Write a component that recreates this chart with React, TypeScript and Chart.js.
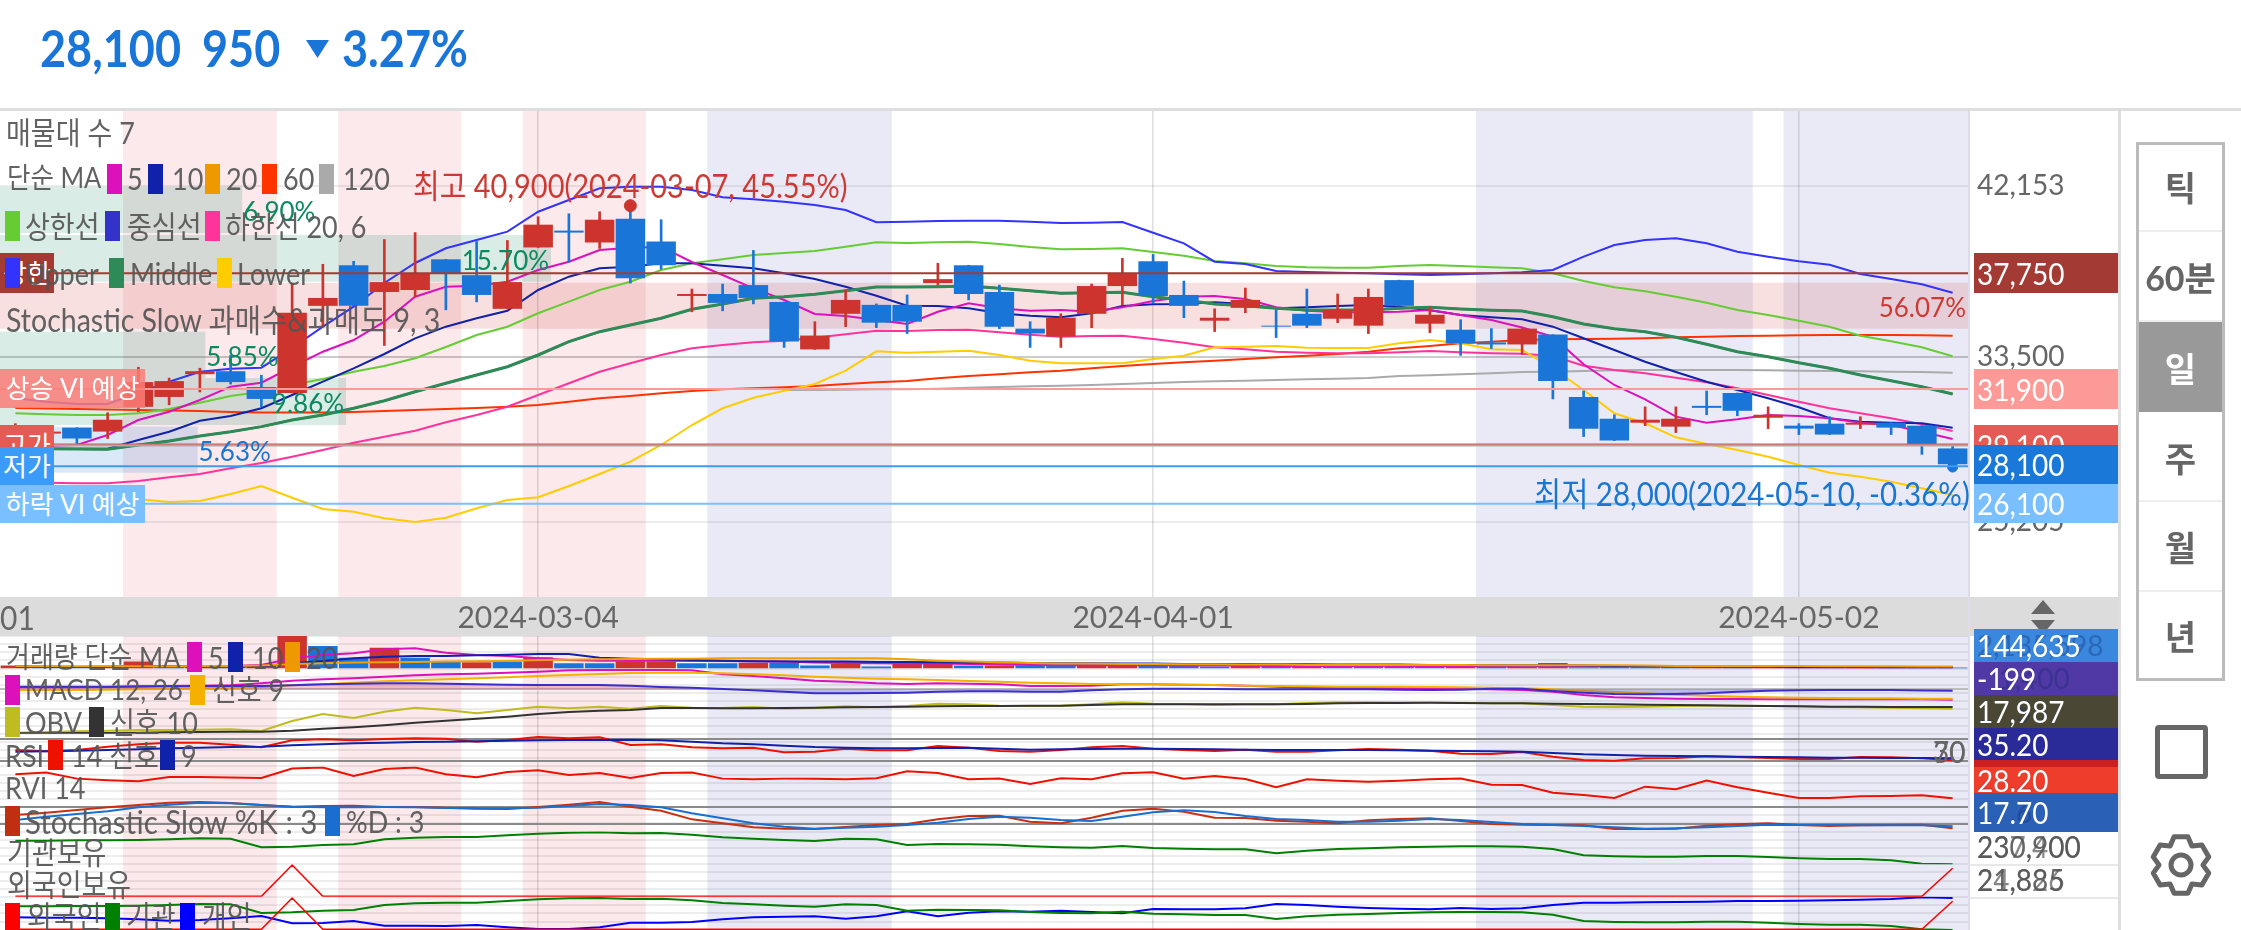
import { useEffect, useRef } from 'react';
import { Chart, registerables } from 'chart.js';

Chart.register(...registerables);

const FONT = 'Lato, "Noto Sans CJK KR", sans-serif';
const RED = '#cc342d';
const BLUE = '#1976d8';

// trading days shown on the chart
const dates = [
  '2024-02-05', '2024-02-06', '2024-02-07', '2024-02-08', '2024-02-13', '2024-02-14', '2024-02-15', '2024-02-16',
  '2024-02-19', '2024-02-20', '2024-02-21', '2024-02-22', '2024-02-23', '2024-02-26', '2024-02-27', '2024-02-28',
  '2024-02-29', '2024-03-04', '2024-03-05', '2024-03-06', '2024-03-07', '2024-03-08', '2024-03-11', '2024-03-12',
  '2024-03-13', '2024-03-14', '2024-03-15', '2024-03-18', '2024-03-19', '2024-03-20', '2024-03-21', '2024-03-22',
  '2024-03-25', '2024-03-26', '2024-03-27', '2024-03-28', '2024-03-29', '2024-04-01', '2024-04-02', '2024-04-03',
  '2024-04-04', '2024-04-05', '2024-04-08', '2024-04-09', '2024-04-11', '2024-04-12', '2024-04-15', '2024-04-16',
  '2024-04-17', '2024-04-18', '2024-04-19', '2024-04-22', '2024-04-23', '2024-04-24', '2024-04-25', '2024-04-26',
  '2024-04-29', '2024-04-30', '2024-05-02', '2024-05-03', '2024-05-07', '2024-05-08', '2024-05-09', '2024-05-10',
];
const dateTicks = ['2024-03-04', '2024-04-01', '2024-05-02'];

const opens = [
  29650, 29650, 29950, 29750, 31000, 31500, 32650, 32800, 32000, 31700,
  36100, 38150, 36800, 36900, 38450, 37650, 35950, 39050, 39900, 39300,
  40500, 39350, 36600, 36700, 37150, 36300, 33900, 35700, 36150, 36150,
  37250, 38150, 36800, 34950, 34550, 35700, 37100, 38350, 36650, 35350,
  36000, 35100, 35700, 35450, 35100, 37400, 35200, 34900, 34250, 34150,
  34650, 31500, 30400, 30200, 30000, 31050, 31700, 30450, 30050, 30150,
  30100, 30200, 30050, 28900,
];
const highs = [
  30150, 29900, 29950, 30700, 33000, 32450, 32950, 33600, 32600, 37250,
  38200, 38350, 39450, 39800, 38450, 39350, 39400, 40600, 40750, 40850,
  40900, 40450, 36950, 37200, 38900, 36300, 35300, 36900, 36200, 36650,
  38250, 38150, 37150, 35300, 35700, 37200, 38500, 38700, 37350, 35950,
  37000, 35900, 36950, 36700, 36950, 37400, 36050, 35400, 34950, 34950,
  34650, 31800, 30600, 31000, 31000, 31800, 31700, 31000, 30150, 30500,
  30500, 30200, 30050, 29100,
];
const lows = [
  29150, 29400, 29100, 29400, 30750, 31100, 31750, 32150, 31000, 31700,
  35050, 36100, 34100, 36550, 35900, 36300, 35950, 39050, 38300, 39000,
  37250, 37950, 35800, 35850, 36200, 34000, 33900, 35050, 35000, 34700,
  37150, 36400, 34950, 34000, 34000, 35000, 36150, 36250, 35500, 34800,
  35750, 34500, 35000, 35250, 34700, 36100, 34750, 33600, 33950, 33650,
  31400, 29500, 29300, 30050, 29700, 30600, 30550, 29900, 29600, 29600,
  29900, 29600, 28600, 28000,
];
const closes = [
  29700, 29750, 29400, 30350, 32250, 32300, 32800, 32250, 31400, 35750,
  36500, 36100, 37300, 37750, 37750, 36650, 37300, 40200, 39800, 40450,
  37500, 38150, 36700, 36250, 36500, 34300, 34600, 36400, 35250, 35300,
  37450, 36700, 35050, 34700, 35500, 37100, 37750, 36600, 36100, 35500,
  36400, 35050, 35100, 35900, 36550, 36100, 35650, 34200, 34150, 34950,
  32300, 29900, 29300, 30350, 30400, 30950, 30800, 30600, 29900, 29600,
  30200, 29950, 29100, 28100,
];

const ma5 = [
  29023, 29023, 29073, 29579, 30336, 30755, 31346, 32018, 32220, 33012, 33785, 34376, 35300, 36563, 37068, 37118,
  37320, 37911, 38330, 38921, 39037, 39088, 38315, 37659, 36987, 36396, 35689, 35588, 35386, 35184, 35805, 36229,
  35977, 35855, 35891, 35805, 36027, 36346, 36563, 36598, 36446, 36027, 35855, 35775, 35775, 35805, 35891, 35638,
  35386, 35007, 34543, 33149, 32104, 31381, 30507, 30200, 30371, 30588, 30538, 30422, 30200, 30083, 29745, 29376,
];
const ma10 = [
  28871, 28871, 28887, 28887, 29326, 29745, 30301, 30538, 30927, 31598, 32270, 32947, 33669, 34462, 35048, 35472,
  35855, 36901, 37573, 37997, 38078, 38249, 38249, 38128, 37997, 37745, 37456, 37068, 36613, 36108, 36093, 35977,
  35725, 35604, 35522, 35725, 36093, 36179, 36194, 36280, 36194, 35977, 36027, 36093, 36143, 36058, 35876, 35638,
  35522, 35421, 35048, 34462, 33871, 33280, 32760, 32270, 31851, 31432, 30978, 30422, 30250, 30200, 30170, 29947,
];
const ma60 = [
  30942, 30917, 30892, 30866, 30841, 30816, 30790, 30740, 30715, 30715, 30715, 30740, 30790, 30841, 30892, 30942,
  31008, 31094, 31260, 31432, 31548, 31685, 31800, 31887, 31937, 31988, 32053, 32154, 32240, 32305, 32442, 32558,
  32644, 32745, 32826, 32947, 33063, 33164, 33250, 33331, 33417, 33502, 33583, 33669, 33785, 33957, 34073, 34209,
  34290, 34376, 34412, 34427, 34442, 34462, 34513, 34543, 34578, 34593, 34614, 34629, 34629, 34629, 34614, 34593,
];
const ma120 = [
  null, null, null, null, null, null, null, null, null, null, null, null, null, null, null, null, null, null, null,
  null, null, null, null, null, null, 31851, 31851, 31866, 31887, 31887, 31917, 31967, 32002, 32037, 32068, 32104,
  32154, 32205, 32255, 32290, 32321, 32356, 32391, 32422, 32457, 32558, 32594, 32644, 32694, 32760, 32775, 32810,
  32846, 32861, 32861, 32861, 32861, 32846, 32826, 32810, 32795, 32775, 32760, 32725,
];
// MA20, the envelope centre and the Bollinger middle are the same average
const middle = [
  28922, 28887, 28871, 28856, 29073, 29276, 29528, 29745, 30000, 30336, 30588, 30927, 31311, 31765, 32189, 32608,
  33027, 33619, 34290, 34795, 35134, 35472, 35927, 36194, 36482, 36563, 36684, 36866, 37052, 37052, 37068, 37103,
  36987, 36866, 36735, 36765, 36785, 36563, 36396, 36194, 36108, 35977, 35891, 35891, 35891, 35977, 36027, 35941,
  35876, 35841, 35553, 35184, 34947, 34795, 34513, 34159, 33785, 33533, 33230, 32947, 32608, 32321, 32018, 31649,
];
const envUpper = [
  30674, 30624, 30588, 30588, 30674, 30892, 31210, 31548, 31765, 32104, 32407, 32775, 33063, 33452, 34023, 34628,
  35048, 35725, 36311, 36901, 37320, 37911, 38249, 38451, 38668, 38770, 38870, 39088, 39310, 39274, 39310, 39340,
  39224, 39073, 38957, 38972, 39007, 38820, 38633, 38365, 38249, 38113, 38047, 38027, 38027, 38113, 38164, 38113,
  38047, 37997, 37745, 37356, 37037, 36835, 36563, 36260, 35891, 35638, 35350, 35048, 34593, 34310, 34007, 33553,
];
const envLower = [
  27220, 27170, 27139, 27139, 27256, 27442, 27609, 27897, 28163, 28483, 28821, 29190, 29493, 29796, 30219, 30588,
  31008, 31598, 32189, 32775, 33200, 33619, 33957, 34124, 34260, 34341, 34492, 34664, 34846, 34830, 34881, 34896,
  34765, 34644, 34543, 34578, 34593, 34426, 34240, 34007, 33906, 33785, 33735, 33705, 33705, 33755, 33820, 33755,
  33705, 33684, 33568, 33078, 32861, 32694, 32472, 32240, 31937, 31598, 31260, 30927, 30674, 30422, 30119, 29780,
];
const bbUpper = [
  31432, 31260, 31144, 31144, 31700, 32270, 32775, 32927, 32977, 33972, 35048, 36058, 37255, 38265, 39007, 39426,
  39845, 40855, 41446, 42037, 42118, 42118, 41951, 41582, 41481, 41360, 41193, 40941, 40320, 40350, 40386, 40401,
  40401, 40350, 40285, 40300, 40335, 39795, 39259, 38330, 38214, 37860, 37810, 37775, 37745, 37694, 37658, 37694,
  37745, 37795, 37911, 38583, 39174, 39426, 39512, 39259, 38835, 38583, 38350, 38178, 37709, 37457, 37189, 36765,
];
const bbLower = [
  26715, 26634, 26549, 26463, 26332, 26195, 26245, 26599, 27003, 26412, 25841, 25705, 25372, 25185, 25403, 25877,
  26296, 26432, 27003, 27609, 28231, 29073, 30083, 30927, 31462, 31816, 32154, 32826, 33805, 33735, 33785, 33836,
  33619, 33331, 33200, 33200, 33200, 33417, 33583, 34007, 34037, 34073, 33987, 33972, 33972, 34209, 34376, 34209,
  33906, 33871, 32947, 31851, 30674, 30170, 29462, 29124, 28821, 28483, 28063, 27674, 27472, 27220, 26887, 26549,
];

// price levels drawn across the chart: upper limit, rise VI, day high, previous close, day low, fall VI
const levelPrices = [37750, 31900, 29100, 29050, 28000, 26100];
const levelColors = ['#a33a33', '#fb9a96', '#ee4b44', '#aaaaaa', '#3a9cf8', '#7abfff'];
const yTicks = [25205, 33500, 42153];

// price-volume bands
const bandTops = [42118, 39679, 37270, 34795, 32457, 30000, 27674];
const bandBottoms = [39779, 37320, 34947, 32457, 30083, 27674, 25336];
const bandShares = [6.9, 15.7, 56.07, 5.85, 9.86, 5.63, 0];
const bandKinds = ['up', 'up', 'top', 'up', 'up', 'down', 'down'];

// stochastic over-bought / over-sold spans, in candle indexes
const hotSpans = [[3.5, 8.5], [10.5, 14.5], [16.5, 20.5]];
const coldSpans = [[22.5, 28.5], [47.5, 56.5], [57.5, 63.5]];

const volume = [
  430000, 190000, 145000, 290000, 1010000, 190000, 380000, 290000, 530000, 4700000, 3260000, 1580000, 3020000,
  1580000, 1010000, 910000, 1010000, 1630000, 770000, 770000, 1060000, 1010000, 770000, 770000, 860000, 860000,
  430000, 720000, 290000, 670000, 720000, 430000, 430000, 430000, 430000, 430000, 480000, 430000, 430000, 290000,
  530000, 380000, 480000, 380000, 380000, 380000, 290000, 240000, 290000, 290000, 820000, 190000, 290000, 290000,
  240000, 190000, 145000, 145000, 100000, 145000, 145000, 145000, 145000, 144635,
];
const volumeSide = 'rbbrrbrbrrbbrbbrbrbbrrbbrbbrbrrbrbbrrbbbrbrbbbbrbrrbbbbrbrbbrbbb';
const volMa5 = [
  384, 288, 240, 288, 384, 384, 384, 384, 528, 1488, 1968, 2208, 2784, 2928, 2304, 1968, 1824, 1488, 1248, 1152,
  1152, 1152, 1104, 1104, 1056, 1008, 864, 816, 768, 720, 720, 672, 576, 528, 480, 480, 480, 480, 432, 432,
  432, 384, 384, 384, 384, 384, 336, 336, 288, 288, 384, 336, 288, 288, 240, 240, 192, 192, 144, 144, 144, 144, 144, 144,
];
const volMa10 = [
  240, 240, 240, 240, 288, 288, 288, 288, 336, 768, 1104, 1488, 1728, 1824, 1824, 1920, 2016, 2112, 2112, 1584,
  1440, 1344, 1248, 1152, 1056, 1008, 1008, 1008, 960, 960, 912, 864, 864, 816, 768, 768, 720, 720, 672, 672,
  672, 624, 624, 576, 576, 576, 528, 528, 480, 480, 480, 432, 384, 384, 336, 336, 288, 288, 240, 240, 240, 192, 192, 192,
];
const volMa20 = [
  336, 336, 336, 336, 336, 336, 384, 384, 432, 672, 768, 864, 912, 960, 1008, 1056, 1104, 1248, 1296, 1344,
  1392, 1440, 1440, 1488, 1488, 1488, 1488, 1488, 1488, 1344, 1152, 1008, 912, 816, 720, 720, 672, 672, 624, 624,
  576, 576, 528, 528, 528, 528, 528, 528, 480, 480, 480, 480, 480, 432, 384, 384, 384, 384, 384, 336, 336, 336, 288, 288,
];

const macd = [
  282, 282, 282, 329, 376, 470, 517, 564, 846, 1222, 1410, 1551, 1786, 1974, 2115, 2209, 2350, 2491, 2679, 2726,
  2726, 2726, 2679, 2115, 1880, 1551, 1222, 1081, 846, 752, 846, 799, 705, 470, 470, 517, 705, 705, 658, 611,
  517, 376, 235, 188, 188, 141, 141, 94, 0, -94, -329, -799, -1128, -1222, -1316, -1363, -1363, -1410, -1410, -1410,
  -1410, -1410, -1410, -1457,
];
const macdSignal = [
  -94, -94, -94, -47, 0, 47, 94, 141, 282, 611, 705, 940, 1128, 1269, 1410, 1551, 1692, 1880, 2021, 2162,
  2303, 2350, 2350, 2256, 2115, 1974, 1786, 1645, 1504, 1410, 1316, 1175, 1081, 940, 846, 752, 705, 705, 658, 611,
  517, 470, 423, 376, 376, 376, 329, 282, 235, 141, 0, -188, -376, -564, -752, -893, -1034, -1128, -1175, -1222,
  -1269, -1269, -1316, -1316,
];
const macdOsc = [
  376, 376, 376, 376, 423, 423, 423, 470, 470, 564, 705, 799, 846, 846, 799, 705, 658, 611, 611, 611,
  517, 329, 235, 47, -141, -329, -564, -564, -517, -470, -329, -282, -282, -329, -329, -141, 0, 94, 94, 47,
  0, 0, 0, 0, 0, -47, -94, -47, 94, 94, -235, -470, -658, -705, -658, -564, -329, -188, -141, -94, -94, -94, -150, -199,
];

const obv = [
  10300, 10500, 10700, 10900, 11100, 11100, 11200, 11300, 10800, 13800, 15900, 14700, 16600, 17800, 17100, 16100,
  17100, 18100, 17600, 18100, 17500, 18300, 17800, 17700, 18000, 17500, 17700, 18200, 17900, 18300, 19000, 18800,
  18400, 18300, 18400, 18800, 19400, 19000, 18900, 18600, 18800, 18800, 19200, 19500, 19500, 19400, 19400, 19300,
  19100, 19100, 18600, 18100, 18000, 18100, 18300, 18400, 18400, 18300, 18200, 18000, 17900, 17800, 17600, 17500,
];
const obvSignal = [
  10100, 10100, 10200, 10200, 10300, 10400, 10500, 10600, 10600, 10900, 11500, 11900, 12500, 13300, 13900, 14500,
  15100, 15900, 16500, 16900, 17100, 17700, 17700, 17600, 17600, 17700, 17800, 17900, 18000, 18100, 18200, 18300,
  18300, 18400, 18400, 18600, 18800, 18800, 18800, 18800, 18800, 18800, 18900, 19100, 19200, 19200, 19300, 19200,
  19100, 19100, 19000, 18900, 18800, 18700, 18600, 18500, 18400, 18300, 18200, 18100, 18100, 18000, 18000, 17987,
];

const rsi = [
  50.3, 47.8, 50.3, 56.4, 60.8, 63.8, 63.8, 60.1, 55.2, 68.1, 70, 68.1, 70.6, 71.8, 71.2, 65.7, 68.7, 74.3, 71.8, 73.7,
  59.5, 60.8, 55.2, 53.4, 54.6, 46, 47.2, 52.8, 49.7, 49.7, 57.7, 54.6, 48.5, 47.2, 50.3, 55.2, 57.7, 52.8, 50.3, 48.5,
  50.9, 47.2, 47.2, 49.7, 52.1, 50.9, 49.1, 43.5, 42.9, 46.6, 38, 31.8, 30.6, 34.9, 35.5, 38.6, 37.4, 35.5, 33.7, 33.7,
  37.4, 36.7, 34.9, 31.2,
];
const rsiSignal = [
  47.2, 47.8, 49.1, 50.3, 51.5, 53.4, 54.6, 55.8, 56.4, 58.9, 60.8, 62.6, 63.8, 65.1, 65.7, 66.3, 67.5, 68.1, 68.7, 68.7,
  69.4, 68.1, 65.7, 62.6, 60.8, 58.3, 55.8, 54.6, 53.4, 53.4, 54, 54.6, 52.8, 50.9, 51.5, 52.1, 52.8, 52.8, 52.1, 51.5,
  50.9, 50.3, 50.3, 50.3, 50.3, 49.7, 49.1, 48.5, 47.8, 47.2, 44.8, 42.3, 41.1, 39.8, 39.2, 38.6, 38, 37.4, 36.8, 36.2,
  36.2, 35.5, 35.5, 35.2,
];
const rvi = [
  64.2, 66.7, 57.7, 55.2, 53.7, 60.2, 60.2, 59.2, 58.7, 72.7, 74.2, 61.7, 72.2, 74.2, 64.2, 59.7, 67.7, 70.2, 63.2, 66.2,
  58.7, 66.2, 66.7, 57.7, 56.7, 57.7, 57.7, 56.7, 58.2, 68.7, 66.2, 56.7, 57.7, 49.7, 58.2, 56.7, 65.7, 67.2, 57.7, 61.7,
  57.2, 44.7, 56.7, 54.7, 53.2, 54.7, 56.7, 57.7, 48.7, 48.2, 36.7, 33.2, 28.7, 45.7, 41.7, 54.7, 44.7, 36.7, 28.7, 28.7,
  31.2, 31.7, 32.7, 28.2,
];
const stochK = [
  51.8, 60.4, 70.2, 80, 88.5, 97.1, 99.6, 95.9, 88.5, 82.4, 84.9, 86.1, 81.2, 81.2, 78.8, 75.1, 73.9, 81.2, 89.8, 100,
  82.4, 67.7, 35.9, 21.2, 6.5, 1.6, 0.4, 7.8, 15.1, 18.8, 35.9, 48.2, 49.4, 27.3, 21.2, 42, 67.7, 75.1, 64.1, 42,
  40.8, 31, 27.3, 21.2, 32.2, 37.1, 39.6, 29.8, 18.8, 16.3, 15.1, 13.9, 0.4, 0, 1.6, 12.7, 17.6, 21.2, 15.1, 11.4,
  13.9, 15.1, 16.3, 2.9,
];
const stochD = [
  33.5, 45.7, 55.5, 65.3, 80, 89.8, 97.1, 94.7, 88.5, 82.4, 80, 80, 81.2, 80, 77.5, 76.3, 76.3, 78.8, 84.9, 92.2,
  88.5, 80, 57.9, 39.6, 21.2, 9, 1.6, 5.3, 9, 15.1, 23.7, 37.1, 45.7, 42, 33.5, 29.8, 45.7, 61.6, 69, 62.8,
  48.2, 37.1, 33.5, 27.3, 27.3, 31, 37.1, 33.5, 26.1, 18.8, 15.1, 11.4, 6.5, 1.6, 2.9, 6.5, 11.4, 16.3, 15.1, 15.1,
  13.9, 13.9, 13.9, 10.2,
];

const instHolding = [
  238000, 238000, 238100, 238100, 238200, 238400, 238700, 238600, 236000, 236200, 236700, 236900, 238400, 238900,
  239100, 239100, 239600, 240100, 240400, 240500, 240200, 240300, 239800, 239000, 238600, 238200, 237900, 238600,
  238400, 236700, 237000, 236900, 236800, 236300, 236000, 235900, 236400, 235800, 235600, 235400, 235400, 234200,
  235000, 235500, 235700, 236000, 236200, 236300, 236300, 236200, 235500, 233600, 233300, 233200, 233200, 233400,
  233400, 233100, 232700, 232500, 232500, 232100, 231100, 230900,
];
const foreignHolding = [
  0, 0, 0, 0, 0, 0, 0, 0, 0, 24400, 0, 0, 0, 0, 0, 0, 0, 0, 0, 0, 0, 0, 0, 0, 0, 0, 0, 0, 0, 0, 0, 0,
  0, 0, 0, 0, 0, 0, 0, 0, 0, 0, 0, 0, 0, 0, 0, 0, 0, 0, 0, 0, 0, 0, 0, 0, 0, 0, 0, 0, 0, 0, 0, 21885,
];
const instFlow = [
  17940, 17940, 18200, 18200, 18460, 18980, 19760, 19500, 12740, 13260, 14560, 15080, 18980, 20280, 20800, 20800,
  22100, 23400, 24180, 24440, 23660, 23920, 22620, 20540, 19500, 18460, 17680, 19500, 18980, 14560, 15340, 15080,
  14820, 13520, 12740, 12480, 13780, 12220, 11700, 11180, 11180, 8060, 10140, 11440, 11960, 12740, 13260, 13520,
  13520, 13260, 11440, 6500, 5720, 5460, 5460, 5980, 5980, 5200, 4160, 3640, 3640, 2600, 0, -520,
];
const retailFlow = [
  9360, 9100, 9100, 8580, 7800, 6760, 7280, 8580, 10400, 4680, 4940, 6500, 2860, 2860, 2600, 3380, 1560, 260, 260,
  1560, 5200, 5200, 5720, 7800, 9360, 9880, 10140, 8320, 10140, 14040, 10140, 13000, 14040, 13780, 14560, 13520,
  12480, 15860, 15600, 15600, 16380, 19760, 18980, 17680, 16640, 16120, 15600, 16640, 15860, 16380, 18980, 20800,
  20800, 21060, 21320, 21580, 22100, 22100, 22360, 22620, 23140, 23660, 24960, 24440,
];

const highMark = 40900;
const lowMark = 28000;

// top to bottom: [axis id, height in px, min, max]
const panels: Array<[string, number, number, number]> = [
  ['price', 487, 21397, 45991],
  ['band', 39, 0, 39],
  ['vol', 32.6, 0, 4710000],
  ['macd', 32.6, -1673, 2923],
  ['obv', 32.6, 9960, 19740],
  ['rsi', 32.6, 20, 80.2],
  ['rvi', 32.6, 27.2, 76],
  ['stoch', 32.6, -9.1, 110.6],
  ['inst', 32.6, 230940, 240720],
  ['foreign', 32.6, -364, 25064],
  ['flow', 33.2, -520, 25376],
];

const line = (label: string, data: Array<number | null>, yAxisID: string, borderColor: string, order: number, borderWidth = 2) => ({
  type: 'line' as const, label, data, yAxisID, borderColor, order, borderWidth, pointRadius: 0, tension: 0, fill: false, spanGaps: false,
});

const backdrop = {
  id: 'backdrop',
  beforeDraw(chart: any) {
    const { ctx, chartArea: a, scales } = chart;
    ctx.save();
    const paint = (spans: number[][], color: string) => {
      ctx.fillStyle = color;
      for (const [from, to] of spans) {
        const x0 = scales.x.getPixelForValue(from);
        const x1 = scales.x.getPixelForValue(to);
        ctx.fillRect(x0, a.top, x1 - x0, a.bottom - a.top);
      }
    };
    paint(hotSpans, '#fbe9ec');
    paint(coldSpans, '#eaeaf7');
    ctx.restore();
  },
  beforeDatasetsDraw(chart: any) {
    const { ctx, chartArea: a, scales } = chart;
    const y = scales.price;
    ctx.save();
    // price-volume bands
    const top = Math.max(...bandShares);
    bandShares.forEach((share, i) => {
      const y0 = y.getPixelForValue(bandTops[i]);
      const y1 = y.getPixelForValue(bandBottoms[i]);
      const fill = bandKinds[i] === 'top' ? 'rgba(210,50,50,0.15)' : bandKinds[i] === 'up' ? 'rgba(0,128,90,0.15)' : 'rgba(25,118,210,0.16)';
      ctx.fillStyle = fill;
      ctx.fillRect(a.left, y0, ((a.right - a.left) * share) / top, y1 - y0);
    });
    // gray date band, runs through the axis column as well
    const b0 = scales.band.top;
    const b1 = scales.band.bottom;
    ctx.fillStyle = '#dcdcdc';
    ctx.fillRect(0, b0, 2119, b1 - b0);
    ctx.restore();
  },
  afterDatasetsDraw(chart: any) {
    const { ctx, chartArea: a, scales } = chart;
    const y = scales.price;
    ctx.save();
    // level lines go over the candles
    levelPrices.forEach((price, i) => {
      const py = y.getPixelForValue(price);
      ctx.strokeStyle = levelColors[i];
      ctx.lineWidth = 2;
      ctx.beginPath();
      ctx.moveTo(a.left, py);
      ctx.lineTo(a.right, py);
      ctx.stroke();
    });
    // band shares
    const top = Math.max(...bandShares);
    ctx.font = `26px ${FONT}`;
    ctx.textBaseline = 'middle';
    bandShares.forEach((share, i) => {
      const mid = (y.getPixelForValue(bandTops[i]) + y.getPixelForValue(bandBottoms[i])) / 2 + 3;
      const w = ((a.right - a.left) * share) / top;
      ctx.fillStyle = bandKinds[i] === 'top' ? '#cc3a33' : bandKinds[i] === 'up' ? '#0a8a60' : '#1976d2';
      ctx.textAlign = w > 300 ? 'right' : 'left';
      ctx.fillText(`${share.toFixed(2)}%`, w > 300 ? w - 2 : w + 1, mid);
    });
    ctx.restore();
  },
};

function TickChart() {
  const canvasRef = useRef<HTMLCanvasElement>(null);

  useEffect(() => {
    if (!canvasRef.current) return;

    const scales: any = {
      x: {
        type: 'category',
        offset: true,
        position: { band: 36 },
        afterFit: (axis: any) => {
          axis.paddingLeft = 0;
          axis.paddingRight = 0;
          axis.paddingTop = 0;
          axis.paddingBottom = 0;
        },
        grid: {
          offset: false,
          drawTicks: false,
          lineWidth: 1.5,
          color: (c: any) => (dateTicks.includes(dates[c.index]) ? 'rgba(0,0,0,0.13)' : 'transparent'),
        },
        border: { display: false },
        ticks: {
          z: 1,
          padding: 0,
          autoSkip: false,
          maxRotation: 0,
          color: '#666',
          font: { family: FONT, size: 30 },
          callback: (_v: any, i: number) => (dateTicks.includes(dates[i]) ? dates[i] : ''),
        },
      },
    };
    panels.forEach(([id, weight, min, max], i) => {
      scales[id] = {
        type: 'linear',
        position: 'right',
        stack: 'panels',
        stackWeight: weight,
        weight: i,
        min,
        max,
        border: { display: false },
        afterFit: (axis: any) => {
          axis.width = 151;
          axis.paddingTop = 0;
          axis.paddingBottom = 0;
        },
        afterBuildTicks: (axis: any) => {
          if (id === 'price') {
            axis.ticks = yTicks.map((value) => ({ value }));
          } else if (id === 'band') {
            axis.ticks = [];
          } else {
            const step = (max - min) / 4;
            const values = [max, max - step, max - 2 * step, max - 3 * step];
            if (id === 'rsi') values.push(70, 30);
            if (id === 'stoch') values.push(80, 20);
            if (id === 'macd') values.push(0);
            axis.ticks = values.map((value) => ({ value }));
          }
        },
        grid: {
          drawTicks: false,
          lineWidth: 2,
          color: (c: any) => {
            const v = c.tick?.value;
            if (id === 'price') return v === 33500 ? 'rgba(0,0,0,0.2)' : 'rgba(0,0,0,0.07)';
            if (id === 'rsi' && (v === 70 || v === 30)) return '#8a8a8a';
            if (id === 'stoch' && (v === 80 || v === 20)) return '#8a8a8a';
            if (id === 'macd' && v === 0) return '#bdbdbd';
            return 'rgba(0,0,0,0.07)';
          },
        },
        ticks: {
          display: id === 'price',
          padding: 9,
          color: '#666',
          font: { family: FONT, size: 28 },
          callback: (v: any) => Number(v).toLocaleString('en-US'),
        },
      };
    });

    const chart = new Chart(canvasRef.current, {
      type: 'bar',
      data: {
        labels: dates,
        datasets: [
          {
            type: 'bar', label: '시가-종가', yAxisID: 'price', order: 0, grouped: false, barPercentage: 0.96, categoryPercentage: 1,
            data: dates.map((_, i) => [opens[i], closes[i]]),
            backgroundColor: closes.map((c, i) => (c >= opens[i] ? RED : BLUE)),
          },
          {
            type: 'bar', label: '고가-저가', yAxisID: 'price', order: 1, grouped: false, barThickness: 2,
            data: dates.map((_, i) => [lows[i], highs[i]]),
            backgroundColor: closes.map((c, i) => (c >= opens[i] ? RED : BLUE)),
          },
          {
            type: 'line', label: '최고', yAxisID: 'price', order: 0, showLine: false, pointRadius: 6, pointBackgroundColor: RED, pointBorderColor: RED,
            data: highs.map((h) => (h === highMark ? h + 260 : null)),
          },
          {
            type: 'line', label: '최저', yAxisID: 'price', order: 0, showLine: false, pointRadius: 5, pointBackgroundColor: BLUE, pointBorderColor: BLUE,
            data: lows.map((l) => (l === lowMark ? l - 40 : null)),
          },
          line('Middle', middle, 'price', '#2e8b57', 2, 3),
          line('MA5', ma5, 'price', '#dd11bb', 3),
          line('MA10', ma10, 'price', '#1122aa', 4),
          line('Upper', bbUpper, 'price', '#3333ff', 5),
          line('Lower', bbLower, 'price', '#ffcc00', 5),
          line('상한선', envUpper, 'price', '#66cc33', 6),
          line('하한선', envLower, 'price', '#ff3399', 6),
          line('MA60', ma60, 'price', '#ff3300', 7),
          line('MA120', ma120, 'price', '#aaaaaa', 8),
          line('MA20', middle, 'price', '#ee9900', 9),
          line('중심선', middle, 'price', '#3333cc', 9),

          {
            type: 'bar', label: '거래량', yAxisID: 'vol', order: 20, grouped: false, barPercentage: 0.96, categoryPercentage: 1,
            data: volume,
            backgroundColor: volume.map((_, i) => (volumeSide[i] === 'r' ? RED : BLUE)),
          },
          line('거래량 MA20', volMa20.map((v) => v * 1000), 'vol', '#f0a000', 10),
          line('거래량 MA10', volMa10.map((v) => v * 1000), 'vol', '#1122aa', 11),
          line('거래량 MA5', volMa5.map((v) => v * 1000), 'vol', '#dd11bb', 12),

          line('신호', macdSignal, 'macd', '#f5b000', 11),
          line('MACD', macd, 'macd', '#dd11bb', 12),
          {
            ...line('Oscillator', macdOsc, 'macd', '#3a2fcc', 10),
            fill: { target: { value: 0 }, above: 'rgba(210,50,80,0.28)', below: 'rgba(60,60,200,0.28)' },
          },

          line('OBV 신호', obvSignal, 'obv', '#333333', 10),
          line('OBV', obv, 'obv', '#c0bb20', 11),

          line('RSI 신호', rsiSignal, 'rsi', '#1122aa', 10),
          line('RSI', rsi, 'rsi', '#ee1100', 11),
          line('RVI', rvi, 'rvi', '#ee1100', 10),
          line('%D', stochD, 'stoch', '#1a6ed0', 10),
          line('%K', stochK, 'stoch', '#c83010', 11),

          line('기관보유', instHolding, 'inst', '#008000', 10),
          line('외국인보유', foreignHolding, 'foreign', '#ff0000', 10, 1.5),
          line('외국인', foreignHolding, 'flow', '#ff0000', 10, 1.5),
          line('기관', instFlow, 'flow', '#008000', 11),
          line('개인', retailFlow, 'flow', '#0000ff', 11),
        ] as any,
      },
      options: {
        responsive: false,
        animation: false,
        devicePixelRatio: 1,
        layout: { autoPadding: false, padding: { top: 110, right: 122, left: 0, bottom: 0 } },
        plugins: { legend: { display: false }, tooltip: { enabled: false } },
        scales,
      },
      plugins: [backdrop],
    });

    return () => chart.destroy();
  }, []);

  return <canvas ref={canvasRef} width={2241} height={930} style={{ position: 'absolute', left: 0, top: 0, display: 'block' }} />;
}

function Text({ x, y, size = 27, color = 'rgba(85,85,85,0.92)', weight = 400, stretch = 1.12, children }: any) {
  return (
    <span style={{ position: 'absolute', left: x, top: y, transform: `translateY(-50%) scaleY(${stretch})`, fontFamily: FONT, fontSize: size, color, fontWeight: weight, lineHeight: 1, whiteSpace: 'nowrap' }}>
      {children}
    </span>
  );
}

function Box({ x, y, w, h, color, style }: any) {
  return <div style={{ position: 'absolute', left: x, top: y, width: w, height: h, background: color, ...style }} />;
}

// legend rows: label text, left, middle, font size
const legendTexts: Array<[string, number, number, number]> = [
  ['매물대 수 7', 6, 132, 27], ['단순 MA', 7, 178, 25.5], ['5', 127, 178, 27], ['10', 172, 178, 27], ['20', 226, 178, 27], ['60', 283, 178, 27], ['120', 343, 178, 27],
  ['상한선', 25, 226, 27], ['중심선', 127, 226, 27], ['하한선 20, 6', 225, 226, 27],
  ['Upper', 25, 273, 27], ['Middle', 130, 273, 27], ['Lower', 237, 273, 27],
  ['Stochastic Slow 과매수&과매도 9, 3', 6, 320, 28.5],
  ['거래량 단순 MA', 6, 657, 26], ['5', 208, 657, 27], ['10', 252, 657, 27], ['20', 306, 657, 27],
  ['MACD 12, 26', 25, 689, 26], ['신호 9', 212, 689, 27],
  ['OBV', 25, 722, 27], ['신호 10', 110, 722, 27],
  ['RSI', 5, 755, 27], ['14 신호', 71, 755, 27], ['9', 181, 755, 27],
  ['RVI 14', 5, 787, 27],
  ['Stochastic Slow %K : 3', 25, 821, 29.5], ['%D : 3', 346, 821, 27],
  ['기관보유', 7, 852, 27], ['외국인보유', 7, 884, 27],
  ['외국인', 27, 916, 27], ['기관', 126, 916, 27], ['개인', 202, 916, 27],
];
const legendChips: Array<[number, number, string]> = [
  [107, 164, '#dd11bb'], [148, 164, '#1122aa'], [205, 164, '#ee9900'], [262, 164, '#ff3300'], [319, 164, '#aaaaaa'],
  [5, 211, '#66cc33'], [105, 211, '#3333cc'], [205, 211, '#ff3399'],
  [5, 258, '#3333ff'], [109, 258, '#2e8b57'], [217, 258, '#ffcc00'],
  [187, 642, '#dd11bb'], [228, 642, '#1122aa'], [285, 642, '#ee9900'],
  [5, 675, '#dd11bb'], [190, 675, '#f5b000'],
  [5, 707, '#c0bb20'], [89, 707, '#333333'],
  [48, 740, '#ee1100'], [160, 740, '#1122aa'],
  [5, 806, '#c03010'], [325, 806, '#1a6ed0'],
  [5, 903, '#ff0000'], [105, 903, '#008000'], [180, 903, '#0000ff'],
];
const priceTags: Array<[string, number, number, number, string]> = [
  ['상한', 54, 253, 40, '#a33a33'],
  ['상승 VI 예상', 145, 369, 39, 'rgba(250,125,120,0.85)'],
  ['고가', 54, 425, 40, '#e55a55'],
  ['저가', 54, 447, 38, '#3a9cf8'],
  ['하락 VI 예상', 145, 485, 38, '#7abfff'],
];
const valueTags: Array<[string, number, number, string, string?]> = [
  ['37,750', 253, 40, '#a33a33'],
  ['31,900', 369, 40, '#fb9a96'],
  ['29,100', 425, 40, '#e55a55'],
  ['28,100', 445, 39, '#1a78d8'],
  ['26,100', 484, 39, '#7abfff'],
  ['144,635', 629, 33, '#3a88dd', '2,135,598'],
  ['-199', 662, 33, '#5039a5', '   1,400'],
  ['17,987', 695, 33, '#4a4835', '17,587'],
  ['35.20', 728, 32, '#2a2a99', '31.20'],
  ['28.20', 767, 26, '#ee3d2b', '28.20'],
  ['17.70', 793, 39, '#2a60b5', '17.60'],
];
const tabs = ['틱', '60분', '일', '주', '월', '년'];
const tabTops = [142, 231, 321, 413, 501, 591, 679];

function gearPath(cx: number, cy: number) {
  const pts: string[] = [];
  for (let i = 0; i < 6; i++) {
    const a = (i * Math.PI) / 3 - Math.PI / 2;
    for (const [r, d] of [[22, -0.52], [29, -0.24], [29, 0.24], [22, 0.52]] as const) {
      pts.push(`${(cx + r * Math.cos(a + d)).toFixed(1)},${(cy + r * Math.sin(a + d)).toFixed(1)}`);
    }
  }
  return `M${pts.join('L')}Z`;
}

export default function App() {
  return (
    <div style={{ position: 'relative', width: 2241, height: 930, overflow: 'hidden', background: '#fff' }}>
      <style>{'html,body{margin:0;padding:0;overflow:hidden;background:#fff}'}</style>

      <TickChart />

      {/* header */}
      <Text x={40} y={48} size={45} color="#1976d8" weight={700} stretch={1.15}>28,100</Text>
      <Text x={202} y={48} size={45} color="#1976d8" weight={700} stretch={1.15}>950</Text>
      <svg style={{ position: 'absolute', left: 306, top: 40 }} width={23} height={18}><path d="M0 0H23L11.5 18Z" fill="#1976d8" /></svg>
      <Text x={342} y={48} size={45} color="#1976d8" weight={700} stretch={1.15}>3.27%</Text>
      <Box x={0} y={108} w={2241} h={3} color="#dedede" />

      {/* frames of the price column */}
      <Box x={1968} y={110} w={1.5} h={820} color="#dcdcee" />
      <Box x={2118} y={110} w={3} h={820} color="#dedede" />
      <Box x={1969} y={864} w={149} h={1.5} color="#e8e8e8" />
      <Box x={1969} y={897} w={149} h={1.5} color="#e8e8e8" />

      {/* axis date that falls just off the left edge */}
      <Text x={0} y={617} size={30} color="#666">01</Text>
      <svg style={{ position: 'absolute', left: 2031, top: 600 }} width={24} height={36}>
        <path d="M12 0L24 14H0Z M0 20H24L12 34Z" fill="#666" />
      </svg>

      {priceTags.map(([t, w, y, h, color]) => (
        <div key={t} style={{ position: 'absolute', left: 0, top: y, width: w, height: h, background: color, color: '#fff', fontFamily: FONT, fontSize: 26, lineHeight: `${h}px`, textAlign: 'center', whiteSpace: 'nowrap' }}>{t}</div>
      ))}

      {legendChips.map(([x, y, color], i) => <Box key={i} x={x} y={y} w={15} h={30} color={color} />)}
      {legendTexts.map(([t, x, y, size], i) => <Text key={i} x={x} y={y} size={size}>{t}</Text>)}

      <Text x={413} y={185} size={29} color="#cc3a33">최고 40,900(2024-03-07, 45.55%)</Text>
      <Text x={1534} y={493} size={29.5} color="#1976d2">최저 28,000(2024-05-10, -0.36%)</Text>

      <Text x={1933} y={751} size={28} color="#666">70</Text>
      <Text x={1933} y={751} size={28} color="#666">30</Text>

      {valueTags.map(([t, y, h, color, ghost]) => (
        <div key={t} style={{ position: 'absolute', left: 1974, top: y, width: 144, height: h, background: color, fontFamily: FONT, fontSize: 28, lineHeight: `${h}px`, whiteSpace: 'pre' }}>
          {ghost && <span style={{ position: 'absolute', left: 3, top: 0, color: 'rgba(20,40,110,0.35)' }}>{ghost}</span>}
          <span style={{ position: 'absolute', left: 3, top: 0, color: '#fff', transform: 'scaleY(1.12)' }}>{t}</span>
        </div>
      ))}
      <Box x={1974} y={760} w={144} h={7} color="#cc1f1f" />

      <Text x={1977} y={846} size={28} color="#666">230,900</Text>
      <Text x={1977} y={846} size={28} color="rgba(85,85,85,0.7)">237,400</Text>
      <Text x={1977} y={879} size={28} color="#666">21,885</Text>
      <Text x={1977} y={879} size={28} color="rgba(85,85,85,0.7)">24,826</Text>

      {/* period tabs */}
      <div style={{ position: 'absolute', left: 2136, top: 142, width: 83, height: 533, border: '3px solid #bbb' }} />
      {tabs.map((t, i) => {
        const on = t === '일';
        return (
          <div key={t} style={{ position: 'absolute', left: 2139, top: tabTops[i] + 1, width: 83, height: tabTops[i + 1] - tabTops[i] - 2, display: 'flex', alignItems: 'center', justifyContent: 'center', fontFamily: FONT, fontSize: 34, fontWeight: 700, color: on ? '#fff' : '#666', background: on ? '#999' : 'transparent', borderBottom: i < 5 && !on ? '2px solid #eee' : 'none' }}>{t}</div>
        );
      })}

      {/* side icons */}
      <div style={{ position: 'absolute', left: 2155, top: 725, width: 43, height: 44, border: '5px solid #666', borderRadius: 4 }} />
      <svg style={{ position: 'absolute', left: 2146, top: 830 }} width={70} height={70}>
        <path d={gearPath(35, 35)} fill="none" stroke="#666" strokeWidth={5} strokeLinejoin="round" />
        <circle cx={35} cy={35} r={10} fill="none" stroke="#666" strokeWidth={5} />
      </svg>
    </div>
  );
}
